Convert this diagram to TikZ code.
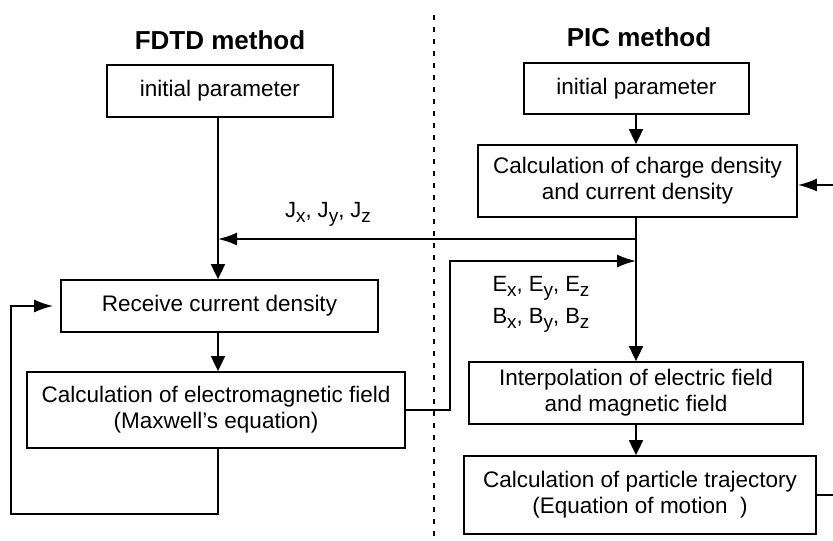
\documentclass[tikz,border=0pt]{standalone}
\usepackage{fontspec}
\setmainfont{Liberation Sans}
\usetikzlibrary{arrows.meta}
\newcommand\lowsub[1]{\raisebox{-5pt}{\fontsize{19}{19}\selectfont #1}}
\begin{document}
\begin{tikzpicture}[x=1pt,y=1pt,
  box/.style={draw,line width=1.8pt,align=center,inner sep=0pt,
    font=\fontsize{22.5}{26}\selectfont},
  title/.style={font=\fontsize{26}{30}\selectfont\bfseries},
  lbl/.style={font=\fontsize{22}{32}\selectfont,align=left,inner sep=0pt},
  wire/.style={line width=1.8pt},
  down/.style={wire,-{Triangle[width=14pt,length=15pt]}},
  feed/.style={wire,-{Latex[width=13pt,length=19pt]}}]
\useasboundingbox (0,0) rectangle (833,-541);

% separator between the two methods
\draw[line width=1.4pt,dash pattern=on 5pt off 7pt] (434,-15) -- (434,-541);

% FDTD side
\node[title] (tfd) at (220,-40) {FDTD method};
\node[box,minimum width=226pt,minimum height=52pt] (fi) at (220,-91) {initial parameter};
\node[box,minimum width=317pt,minimum height=52pt] (rc) at (219.5,-306) {Receive current density};
\node[box,minimum width=378pt,minimum height=76pt] (em) at (216,-410)
  {Calculation of electromagnetic field\\(Maxwell{\char"27}s equation)};

% PIC side
\node[title] (tpic) at (639,-37) {PIC method};
\node[box,minimum width=225pt,minimum height=51pt] (pi) at (636.5,-88.5) {initial parameter};
\node[box,minimum width=319pt,minimum height=72pt] (cd) at (637.5,-181)
  {Calculation of charge density\\and current density};
\node[box,minimum width=334pt,minimum height=62pt] (ip) at (636,-393)
  {Interpolation of electric field\\and magnetic field};
\node[box,minimum width=352pt,minimum height=78pt] (tr) at (640,-495)
  {Calculation of particle trajectory\\(Equation of motion~~)};

% junction points
\coordinate (jsplit) at (636,-239);
\coordinate (jjoin) at (218,-239);
\coordinate (fin) at (636,-261);
\coordinate (fturn) at (450,-410);
\coordinate (loopL) at (11,-514);
\coordinate (backIn) at (833,-185);
\coordinate (backOut) at (833,-495);

% labels
\node[lbl] (jl) at (328,-214) {J\lowsub{x}, J\lowsub{y}, J\lowsub{z}};
\node[lbl] (el) at (541,-304) {E\lowsub{x}, E\lowsub{y}, E\lowsub{z}\\B\lowsub{x}, B\lowsub{y}, B\lowsub{z}};

% FDTD flow
\draw[down] (fi.south -| jjoin) -- (rc.north -| jjoin);
\draw[down] (rc.south -| jjoin) -- (em.north -| jjoin);
\draw[feed,shorten >=7pt] (em.south -| jjoin) |- (loopL) |- (rc.west);

% PIC flow
\draw[down] (pi.south -| jsplit) -- (cd.north -| jsplit);
\draw[down] (cd.south -| jsplit) -- (ip.north -| jsplit);
\draw[down] (ip.south -| jsplit) -- (tr.north -| jsplit);
\draw[feed] (backIn) -- (cd.east |- backIn);
\draw[wire] (tr.east) -- (backOut);

% coupling between the methods
\draw[feed] (jsplit) -- (jjoin);
\draw[feed] (em.east |- fturn) -- (fturn) |- (fin);
\end{tikzpicture}
\end{document}
